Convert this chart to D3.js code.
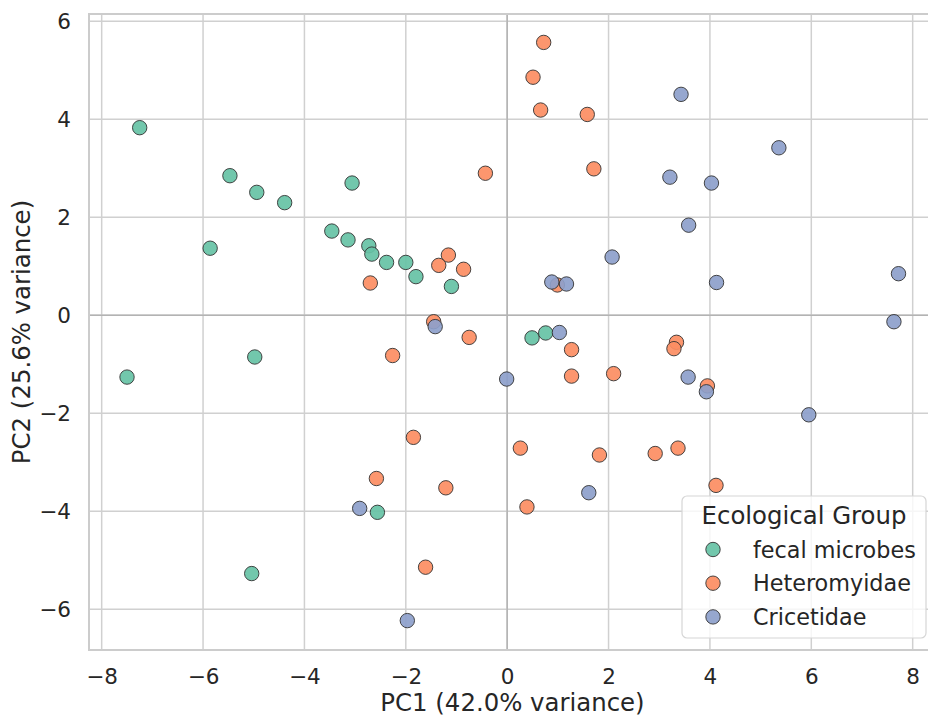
<!DOCTYPE html>
<html>
<head>
<meta charset="utf-8">
<script src="https://cdn.jsdelivr.net/npm/d3@7"></script>
<style>
  body { margin: 0; background: #fff; }
  svg text { font-family: "DejaVu Sans", sans-serif; fill: #262626; }
</style>
</head>
<body>
<svg id="chart" width="928" height="717"></svg>
<script>
// data
const groups = ["fecal microbes", "Heteromyidae", "Cricetidae"];

const fecalMicrobes = [
  [-7.25, 3.83], [-5.47, 2.85], [-4.94, 2.51], [-4.39, 2.30], [-5.86, 1.37],
  [-4.98, -0.85], [-7.50, -1.26], [-3.06, 2.70], [-3.46, 1.72], [-3.14, 1.54],
  [-2.73, 1.42], [-2.67, 1.25], [-2.38, 1.08], [-2.00, 1.08], [-1.80, 0.79],
  [-1.10, 0.59], [0.49, -0.46], [0.76, -0.36], [-2.56, -4.02], [-5.04, -5.27]
];

const heteromyidae = [
  [0.72, 5.57], [0.51, 4.86], [0.66, 4.19], [1.58, 4.10], [-0.43, 2.90],
  [1.71, 2.99], [-1.16, 1.23], [-1.35, 1.02], [-0.86, 0.94], [-2.70, 0.66],
  [0.99, 0.62], [-1.45, -0.13], [-0.75, -0.45], [-2.26, -0.82], [1.27, -0.70],
  [1.27, -1.24], [2.10, -1.19], [-1.85, -2.49], [0.26, -2.71], [1.82, -2.85],
  [3.34, -0.55], [3.29, -0.68], [3.95, -1.44], [2.92, -2.82], [3.37, -2.71],
  [4.12, -3.47], [-2.58, -3.33], [-1.21, -3.52], [0.39, -3.91], [-1.61, -5.14]
];

const cricetidae = [
  [3.43, 4.51], [5.36, 3.42], [3.21, 2.82], [4.03, 2.70], [3.58, 1.84],
  [2.07, 1.19], [0.88, 0.68], [1.17, 0.64], [-1.42, -0.23], [1.03, -0.35],
  [-0.01, -1.30], [4.13, 0.67], [7.72, 0.85], [7.63, -0.13], [3.57, -1.26],
  [3.93, -1.56], [5.95, -2.03], [1.61, -3.62], [-2.91, -3.94], [-1.97, -6.23]
];

const xTicks = [-8, -6, -4, -2, 0, 2, 4, 6, 8];
const yTicks = [-6, -4, -2, 0, 2, 4, 6];
const colors = ["#66c2a5", "#fc8d62", "#8da0cb"];

const svg = d3.select("#chart");
const plot = { left: 89, top: 14, right: 936, bottom: 650 };

const x = d3.scaleLinear().domain([-8.25, 8.46]).range([plot.left, plot.right]);
const y = d3.scaleLinear().domain([-6.83, 6.15]).range([plot.bottom, plot.top]);
const color = d3.scaleOrdinal().domain(groups).range(colors);

// ----------------------------
// GRID + FRAME
// ----------------------------
const grid = svg.append("g");

grid.selectAll(".vgrid")
  .data(xTicks)
  .join("line")
  .attr("x1", d => x(d)).attr("x2", d => x(d))
  .attr("y1", plot.top).attr("y2", plot.bottom)
  .attr("stroke", "#d0d0d0").attr("stroke-width", 1.5);

grid.selectAll(".hgrid")
  .data(yTicks)
  .join("line")
  .attr("x1", plot.left).attr("x2", plot.right)
  .attr("y1", d => y(d)).attr("y2", d => y(d))
  .attr("stroke", "#d0d0d0").attr("stroke-width", 1.5);

// zero reference lines
grid.append("line")
  .attr("x1", x(0)).attr("x2", x(0))
  .attr("y1", plot.top).attr("y2", plot.bottom)
  .attr("stroke", "#b3b3b3").attr("stroke-width", 1.5);
grid.append("line")
  .attr("x1", plot.left).attr("x2", plot.right)
  .attr("y1", y(0)).attr("y2", y(0))
  .attr("stroke", "#b3b3b3").attr("stroke-width", 1.5);

svg.append("rect")
  .attr("x", plot.left).attr("y", plot.top)
  .attr("width", plot.right - plot.left)
  .attr("height", plot.bottom - plot.top)
  .attr("fill", "none")
  .attr("stroke", "#cccccc")
  .attr("stroke-width", 2);

// ----------------------------
// AXES
// ----------------------------
const xAxis = svg.append("g")
  .attr("transform", `translate(0,${plot.bottom})`)
  .call(d3.axisBottom(x).tickValues(xTicks).tickSize(0).tickPadding(19));

const yAxis = svg.append("g")
  .attr("transform", `translate(${plot.left},0)`)
  .call(d3.axisLeft(y).tickValues(yTicks).tickSize(0).tickPadding(18));

[xAxis, yAxis].forEach(a => {
  a.select(".domain").remove();
  a.selectAll("text")
    .style("font-size", "21.5px")
    .style("font-family", "DejaVu Sans, sans-serif")
    .attr("fill", "#262626");
});

svg.append("text")
  .attr("x", (plot.left + plot.right) / 2)
  .attr("y", 711)
  .attr("text-anchor", "middle")
  .style("font-size", "24.4px")
  .text("PC1 (42.0% variance)");

svg.append("text")
  .attr("transform", `translate(30,${(plot.top + plot.bottom) / 2}) rotate(-90)`)
  .attr("text-anchor", "middle")
  .style("font-size", "24.4px")
  .text("PC2 (25.6% variance)");

// ----------------------------
// POINTS
// ----------------------------
const series = [fecalMicrobes, heteromyidae, cricetidae];
const points = svg.append("g");

series.forEach((pts, i) => {
  points.selectAll(null)
    .data(pts)
    .join("circle")
    .attr("cx", d => x(d[0]))
    .attr("cy", d => y(d[1]))
    .attr("r", 7.2)
    .attr("fill", color(groups[i]))
    .attr("fill-opacity", 0.92)
    .attr("stroke", "#333")
    .attr("stroke-opacity", 0.9)
    .attr("stroke-width", 1);
});

// ----------------------------
// LEGEND
// ----------------------------
const legend = svg.append("g").attr("transform", "translate(682,496)");

legend.append("rect")
  .attr("width", 244).attr("height", 142)
  .attr("rx", 5)
  .attr("fill", "#fff").attr("fill-opacity", 0.8)
  .attr("stroke", "#d6d6d6").attr("stroke-width", 1.2);

legend.append("text")
  .attr("x", 122).attr("y", 28)
  .attr("text-anchor", "middle")
  .style("font-size", "24.4px")
  .text("Ecological Group");

const items = legend.selectAll(".item")
  .data(groups)
  .join("g")
  .attr("transform", (d, i) => `translate(0,${53.5 + i * 33.7})`);

items.append("circle")
  .attr("cx", 31).attr("r", 7.2)
  .attr("fill", d => color(d))
  .attr("fill-opacity", 0.92)
  .attr("stroke", "#333")
  .attr("stroke-opacity", 0.9)
  .attr("stroke-width", 1);

items.append("text")
  .attr("x", 71).attr("y", 8)
  .style("font-size", "22.3px")
  .text(d => d);
</script>
</body>
</html>
